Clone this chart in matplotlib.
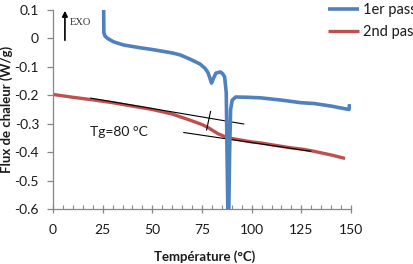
import matplotlib
matplotlib.use("Agg")
import matplotlib.pyplot as plt

# ---- data ----
blue_T = [25.5, 25.6, 26.2, 27.5, 30.5, 35.5, 44, 49, 55, 60, 64, 69, 74, 76.5, 78, 79, 79.8,
          80.8, 82, 84.3, 85.5, 86.4, 87.2, 87.6, 88.0, 88.5, 88.9, 89.4, 90.2, 92, 98, 104.5,
          115, 124.7, 131.5, 140, 149, 149.3]
blue_v = [0.1, 0.02, 0.008, 0.0, -0.012, -0.023, -0.033, -0.038, -0.045, -0.051, -0.058, -0.073,
          -0.09, -0.105, -0.12, -0.14, -0.157, -0.14, -0.122, -0.118, -0.125, -0.136, -0.19, -0.4,
          -0.6, -0.6, -0.4, -0.25, -0.217, -0.206, -0.207, -0.209, -0.217, -0.226, -0.229, -0.238,
          -0.25, -0.231]

red_T = [0, 10, 20, 30, 40, 50, 60, 65, 70, 75, 78, 80, 83, 86, 88, 90, 95, 100, 105, 110,
         120, 125, 130, 140, 147]
red_v = [-0.197, -0.207, -0.216, -0.226, -0.238, -0.25, -0.266, -0.278, -0.29, -0.303, -0.313,
         -0.322, -0.335, -0.344, -0.348, -0.352, -0.358, -0.364, -0.368, -0.374, -0.385, -0.389,
         -0.395, -0.41, -0.422]

tan1_T = [19, 96]
tan1_v = [-0.21, -0.301]
tan2_T = [65.8, 129.8]
tan2_v = [-0.331, -0.397]
mark_T = [79.3, 77.3]
mark_v = [-0.257, -0.322]

series_labels = ["1er pass", "2nd pass"]
x_ticks = [0, 25, 50, 75, 100, 125, 150]
y_ticks = [0.1, 0, -0.1, -0.2, -0.3, -0.4, -0.5, -0.6]
y_ticklabels = ["0.1", "0", "-0.1", "-0.2", "-0.3", "-0.4", "-0.5", "-0.6"]

BLUE = "#4F81BD"
RED = "#C0504D"
GRAY = "#868686"
TXT = "#1a1a1a"
FONT = "Lato"

plt.rcParams["font.family"] = [FONT, "DejaVu Sans"]

fig = plt.figure(figsize=(4.13, 2.64), dpi=100)
ax = fig.add_axes([53 / 413, 1 - 209 / 264, 298 / 413, 199 / 264])

l_red, = ax.plot(red_T, red_v, color=RED, lw=2.4, zorder=2, solid_capstyle="butt")
ax.plot(tan1_T, tan1_v, color="black", lw=0.8, zorder=3)
ax.plot(tan2_T, tan2_v, color="black", lw=0.8, zorder=3)
ax.plot(mark_T, mark_v, color="black", lw=0.8, zorder=3)
l_blue, = ax.plot(blue_T, blue_v, color=BLUE, lw=2.6, zorder=4, solid_capstyle="butt",
                  solid_joinstyle="round")

ax.set_xlim(0, 150)
ax.set_ylim(-0.6, 0.1)
ax.set_xticks(x_ticks)
ax.set_xticks(range(0, 151, 5), minor=True)
ax.set_yticks(y_ticks)
ax.set_yticklabels(y_ticklabels)

for s in ["top", "right"]:
    ax.spines[s].set_visible(False)
for s in ["left", "bottom"]:
    ax.spines[s].set_color(GRAY)
    ax.spines[s].set_linewidth(0.9)

ax.tick_params(axis="x", which="major", direction="inout", length=6, width=0.9, color=GRAY,
               labelsize=10, labelcolor=TXT, pad=8)
ax.tick_params(axis="x", which="minor", direction="in", length=3, width=0.8, color=GRAY)
ax.tick_params(axis="y", which="major", direction="out", length=4, width=0.9, color=GRAY,
               labelsize=10, labelcolor=TXT, pad=6)
ax.tick_params(axis="y", which="minor", left=False)

ax.set_xlabel("Température (°C)", fontsize=9.5, fontweight="bold", color=TXT)
ax.xaxis.set_label_coords(0.51, -0.206)
ax.set_ylabel("Flux de chaleur (W/g)", fontsize=9.5, fontweight="bold", color=TXT)
ax.yaxis.set_label_coords(-0.134, 0.5)

ax.text(18.7, -0.3285, "Tg=80 °C", fontsize=10, color=TXT, ha="left", va="center")

ax.annotate("", xy=(0.04, 1.01), xytext=(0.04, 0.834), xycoords="axes fraction",
            textcoords="axes fraction",
            arrowprops=dict(arrowstyle="-|>", color="black", lw=1.2, mutation_scale=8),
            annotation_clip=False)
ax.text(0.057, 0.935, "EXO", transform=ax.transAxes, fontsize=7.5,
        family="Liberation Serif", color="#333333", ha="left", va="center")

fig.legend([l_blue, l_red], series_labels, loc="upper left",
           bbox_to_anchor=(328 / 413, 1 - 2.8 / 264), frameon=False, fontsize=10.5,
           borderpad=0, borderaxespad=0, handlelength=2.15, handletextpad=0.22,
           labelspacing=0.55, labelcolor=TXT)

fig.savefig("out.png", dpi=100)
